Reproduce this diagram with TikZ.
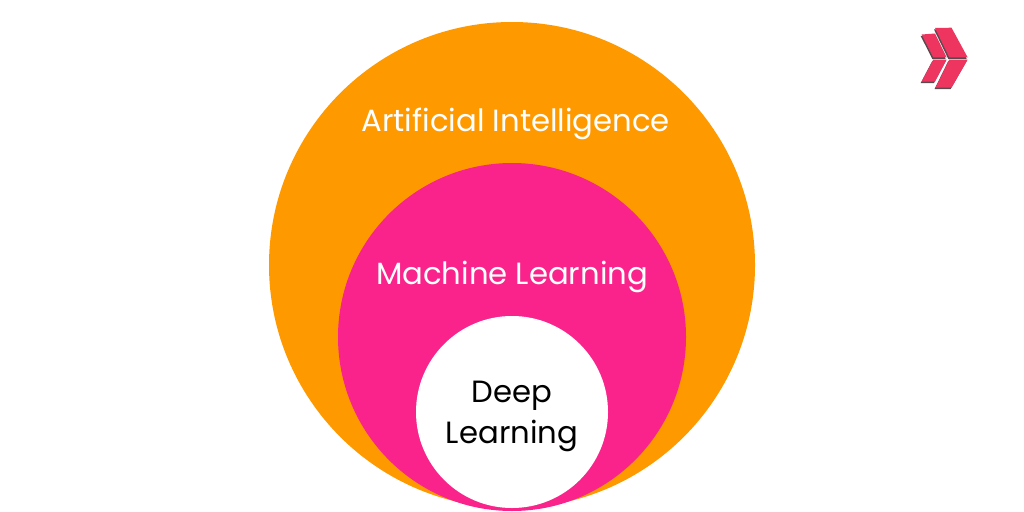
\documentclass[tikz,border=0pt]{standalone}
\usepackage{fontspec}
\setmainfont{Poppins}
\definecolor{aiorange}{HTML}{FF9900}
\definecolor{mlpink}{HTML}{F9238B}
\definecolor{logored}{HTML}{EE3560}
\definecolor{logoshadow}{HTML}{5A4A50}
\tikzset{
  disc/.style={circle,draw=none,inner sep=0pt,text=white},
  label text/.style={font=\fontsize{30.7}{41}\selectfont,align=center,inner sep=0pt},
  logo part/.style={fill=logored,draw=none},
  logo shade/.style={fill=logoshadow,draw=none}
}
\newcommand{\logoshapes}[1]{%
  \fill[#1] (935,28)--(951.5,27.7)--(967.7,57.5)--(949.3,57.5)--cycle;
  \fill[#1] (949.3,59.5)--(967.7,59.5)--(951.5,87.7)--(935.5,87.7)--cycle;
  \fill[#1] (921.7,34.5)--(935,33.5)--(946.7,57.5)--(933.3,57.5)--cycle;
  \fill[#1] (933.3,59.5)--(946.7,59.5)--(935,81.5)--(921.7,81.5)--cycle;
}
\begin{document}
\begin{tikzpicture}[x=1pt,y=-1pt]
\useasboundingbox[fill=white] (0,0) rectangle (1024,511);
\node[disc,fill=aiorange,minimum size=486pt] (ai) at (512,265) {};
\node[disc,fill=mlpink,minimum size=348pt] (ml) at (512,337) {};
\node[disc,fill=white,minimum size=192pt] (dl) at (512,412) {};
\node[label text,text=white] (ait) at (515.8,124) {Artificial Intelligence};
\node[label text,text=white] (mlt) at (512,277) {Machine Learning};
\node[label text,text=black] (dlt) at (512,416) {Deep\\Learning};
\begin{scope}[shift={(-1,1.5)}]
\logoshapes{logo shade}
\end{scope}
\logoshapes{logo part}
\end{tikzpicture}
\end{document}
